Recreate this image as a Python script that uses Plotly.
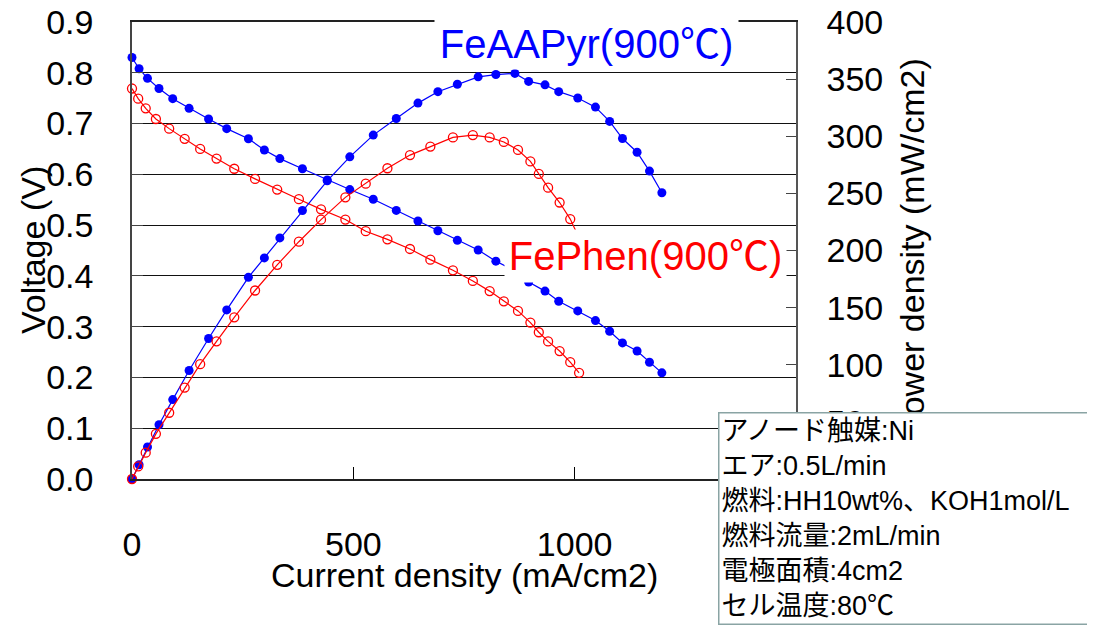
import plotly.graph_objects as go

# ---------------- data ----------------
aapyr_current = [0, 16, 35, 61, 92, 129, 173, 214, 263, 299, 334, 385, 441, 492, 545, 597,
                 646, 691, 735, 782, 822, 865, 896, 933, 964, 1007, 1047, 1079, 1108, 1141, 1169, 1197]
aapyr_voltage = [0.830, 0.808, 0.789, 0.769, 0.749, 0.730, 0.709, 0.690, 0.670, 0.648, 0.631,
                 0.611, 0.589, 0.570, 0.551, 0.529, 0.508, 0.489, 0.470, 0.451, 0.429, 0.410,
                 0.388, 0.370, 0.350, 0.331, 0.312, 0.291, 0.268, 0.252, 0.230, 0.209]
aapyr_power = [0, 12.5, 28, 47.5, 69.5, 95, 123, 148, 176.5, 193.5, 211, 235, 261, 282, 301,
               315.5, 329, 339, 345.5, 352, 354, 355, 348, 345, 339, 333.5, 325.5, 313, 298,
               286, 269.5, 250.5]

phen_current = [0, 14, 31, 54, 84, 119, 154, 191, 231, 278, 328, 377, 427, 482, 528, 577, 628,
                674, 725, 770, 808, 840, 872, 900, 919, 940, 966, 990, 1010]
phen_voltage = [0.769, 0.749, 0.730, 0.709, 0.690, 0.670, 0.650, 0.631, 0.611, 0.591, 0.570,
                0.551, 0.531, 0.511, 0.488, 0.472, 0.453, 0.432, 0.411, 0.390, 0.370, 0.350,
                0.331, 0.308, 0.289, 0.271, 0.252, 0.230, 0.209]
phen_power = [0, 11, 23, 39.5, 58, 80, 100.5, 120.5, 141.5, 165, 187.5, 207.7, 227, 246.5,
              258.5, 272, 283.5, 291, 299, 301, 299, 295, 288, 278, 267, 255, 242, 227.5, 211]

x_ticks = [0, 500, 1000, 1500]
info_lines = ["アノード触媒:Ni", "エア:0.5L/min", "燃料:HH10wt%、KOH1mol/L",
              "燃料流量:2mL/min", "電極面積:4cm2", "セル温度:80℃"]

# ---------------- layout geometry ----------------
OFF = 8                      # page body margin of the html page
W, H = 1095 - OFF, 626 - OFF
L, R, T, B = 132 - OFF, 796 - OFF, 22 - OFF, 479 - OFF
def px(x):                   # screenshot x -> paper x
    return (x - OFF - L) / (R - L)
def py(y):                   # screenshot y -> paper y
    return (B - (y - OFF)) / (B - T)

FONT = "Liberation Sans, Noto Sans CJK JP"
BLUE = "#0000FF"
RED = "#FF0000"

fig = go.Figure()
fig.add_trace(go.Scatter(x=aapyr_current, y=aapyr_voltage, mode="lines+markers",
                         line=dict(color=BLUE, width=1.2),
                         marker=dict(symbol="circle", size=9, color=BLUE),
                         cliponaxis=False, showlegend=False))
fig.add_trace(go.Scatter(x=aapyr_current, y=aapyr_power, mode="lines+markers", yaxis="y2",
                         line=dict(color=BLUE, width=1.2),
                         marker=dict(symbol="circle", size=9, color=BLUE),
                         cliponaxis=False, showlegend=False))
fig.add_trace(go.Scatter(x=phen_current, y=phen_voltage, mode="lines+markers",
                         line=dict(color=RED, width=1.2),
                         marker=dict(symbol="circle-open", size=9, color=RED, line=dict(width=1.3)),
                         cliponaxis=False, showlegend=False))
fig.add_trace(go.Scatter(x=phen_current, y=phen_power, mode="lines+markers", yaxis="y2",
                         line=dict(color=RED, width=1.2),
                         marker=dict(symbol="circle-open", size=9, color=RED, line=dict(width=1.3)),
                         cliponaxis=False, showlegend=False))

tickfont = dict(family=FONT, size=34, color="black")

fig.update_layout(
    width=W, height=H,
    margin=dict(l=L, r=W - R, t=T, b=H - B, pad=0, autoexpand=False),
    paper_bgcolor="white", plot_bgcolor="white",
    showlegend=False,
    xaxis=dict(range=[0, 1500], tickvals=x_ticks, ticks="inside", ticklen=12, tickwidth=1,
               tickcolor="black", showline=True, linecolor="#222", linewidth=1.5, mirror=True,
               showgrid=False, zeroline=False, tickfont=tickfont, ticklabelstandoff=34,
               automargin=False, ticklabeloverflow="allow"),
    yaxis=dict(range=[0, 0.9], dtick=0.1, tickformat=".1f", ticks="inside", ticklen=11,
               tickcolor="#444", showline=True, linecolor="#444", linewidth=1.5,
               showgrid=True, gridcolor="#111", gridwidth=1, zeroline=False,
               tickfont=tickfont, ticklabelstandoff=30, automargin=False,
               ticklabeloverflow="allow"),
    yaxis2=dict(range=[0, 400], dtick=50, overlaying="y", side="right", ticks="inside",
                ticklen=10, tickcolor="#444", showline=True, linecolor="#555", linewidth=1.5,
                showgrid=False, zeroline=False, tickfont=tickfont, ticklabelstandoff=22,
                automargin=False, ticklabeloverflow="allow"),
)

ann = []
ann.append(dict(text="Voltage (V)", x=px(33), y=py(250), xref="paper", yref="paper",
                textangle=-90, showarrow=False, font=dict(family=FONT, size=34, color="black"),
                xanchor="center", yanchor="middle"))
ann.append(dict(text="Current density (mA/cm2)", x=px(464), y=py(575), xref="paper", yref="paper",
                showarrow=False, font=dict(family=FONT, size=34, color="black"),
                xanchor="center", yanchor="middle"))
ann.append(dict(text="Power density (mW/cm2)", x=px(912), y=py(248), xref="paper", yref="paper",
                textangle=-90, showarrow=False, font=dict(family=FONT, size=34, color="black"),
                xanchor="center", yanchor="middle"))
ann.append(dict(text="FeAAPyr(900℃)", x=px(586.5), y=py(44), xref="paper", yref="paper",
                showarrow=False, font=dict(family=FONT, size=40, color=BLUE),
                bgcolor="white", width=303, height=50, borderpad=0,
                xanchor="center", yanchor="middle"))
ann.append(dict(text="FePhen(900℃)", x=px(645.5), y=py(256), xref="paper", yref="paper",
                showarrow=False, font=dict(family=FONT, size=40, color=RED),
                bgcolor="white", width=281, height=52, borderpad=0,
                xanchor="center", yanchor="middle"))
ann.append(dict(text="<br>".join(info_lines), x=px(718), y=py(412), xref="paper", yref="paper",
                showarrow=False, font=dict(family=FONT, size=27, color="black"),
                bgcolor="white", bordercolor="#8AA4A4", borderwidth=1.5, borderpad=2,
                width=400, align="left", xanchor="left", yanchor="top"))
fig.update_layout(annotations=ann)

fig.write_html("out.html")
